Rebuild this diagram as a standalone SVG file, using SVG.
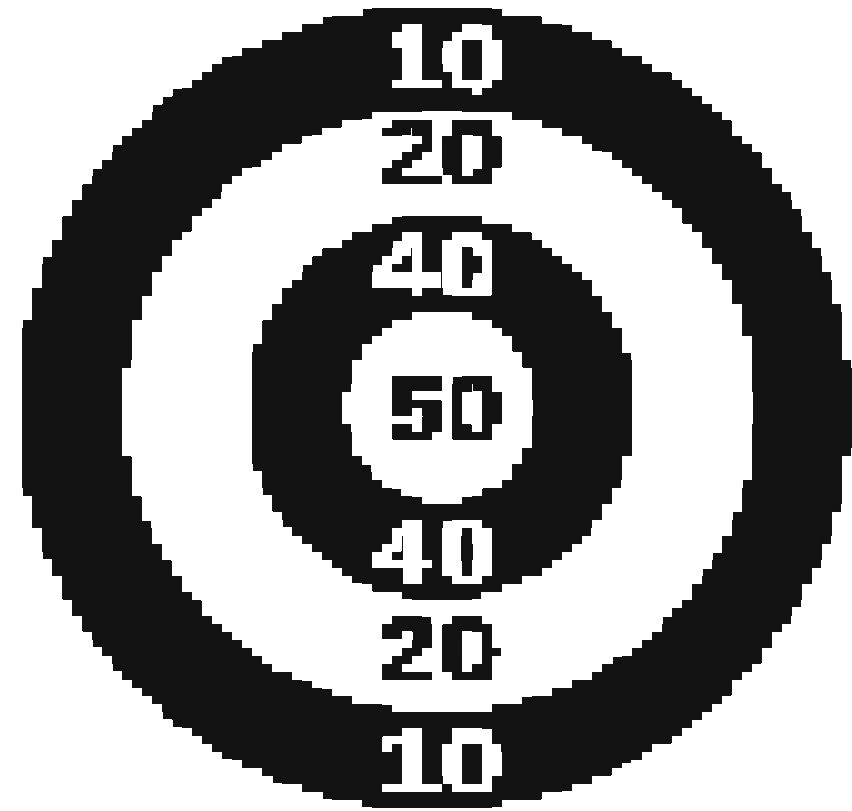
<svg xmlns="http://www.w3.org/2000/svg" width="852" height="811" viewBox="0 0 852 811">
  <defs>
    <filter id="px" filterUnits="userSpaceOnUse" primitiveUnits="userSpaceOnUse" x="0" y="0" width="852" height="811" color-interpolation-filters="sRGB">
      <feFlood x="6" y="3" width="2" height="2" flood-color="#000" result="dot"/>
      <feComposite in="dot" in2="dot" operator="over" x="2" y="0" width="10" height="8" result="cell"/>
      <feTile in="cell" x="0" y="0" width="852" height="811" result="grid"/>
      <feComposite in="SourceGraphic" in2="grid" operator="in" result="s"/>
      <feMorphology in="s" operator="dilate" radius="4 3" result="d"/>
      <feComponentTransfer in="d">
        <feFuncA type="discrete" tableValues="0 1"/>
      </feComponentTransfer>
    </filter>
    <style>
      .ring { fill: #131313; fill-rule: evenodd; }
      .num { font-family: "Liberation Sans", Arial, sans-serif; font-weight: bold; font-size: 90px; text-anchor: middle; stroke-width: 2px; }
      .lt { fill: #ffffff; stroke: #ffffff; }
      .dk { fill: #131313; stroke: #131313; }
    </style>
  </defs>
  <rect x="0" y="0" width="852" height="811" fill="#ffffff"/>
  <g id="rings" filter="url(#px)">
    <path id="target" class="ring" d="M18,408 a416,401 0 1,0 832,0 a416,401 0 1,0 -832,0 Z M123,410 a317,302 0 1,0 634,0 a317,302 0 1,0 -634,0 Z M247.5,407 a193,192 0 1,0 386,0 a193,192 0 1,0 -386,0 Z M345,407.5 a96,96 0 1,0 192,0 a96,96 0 1,0 -192,0 Z"/>
  </g>
  <g id="labels" filter="url(#px)">
    <g id="label-10-top"><text class="num lt" x="443" y="90" textLength="122" lengthAdjust="spacingAndGlyphs">10</text></g>
    <g id="label-20-top"><text class="num dk" x="441" y="184" textLength="122" lengthAdjust="spacingAndGlyphs">20</text></g>
    <g id="label-40-top"><text class="num lt" x="436" y="297" textLength="128" lengthAdjust="spacingAndGlyphs">40</text></g>
    <g id="label-50"><text class="num dk" x="445" y="440" textLength="114" lengthAdjust="spacingAndGlyphs">50</text></g>
    <g id="label-40-bottom"><text class="num lt" x="435" y="583" textLength="128" lengthAdjust="spacingAndGlyphs">40</text></g>
    <g id="label-20-bottom"><text class="num dk" x="439" y="681" textLength="122" lengthAdjust="spacingAndGlyphs">20</text></g>
    <g id="label-10-bottom"><text class="num lt" x="441" y="793" textLength="122" lengthAdjust="spacingAndGlyphs">10</text></g>
  </g>
</svg>
